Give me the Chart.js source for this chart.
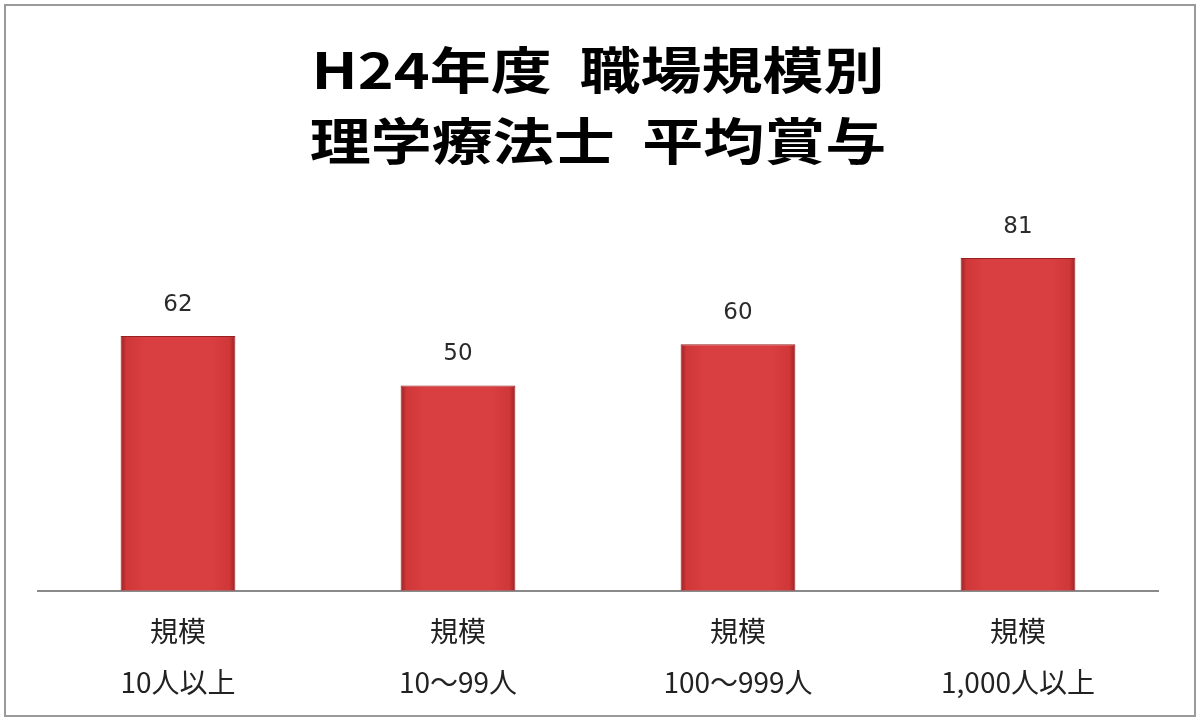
<!DOCTYPE html>
<html>
<head>
<meta charset="utf-8">
<script src="https://cdn.jsdelivr.net/npm/chart.js@4"></script>
<style>
  html, body { margin: 0; padding: 0; background: #fff; }
  #wrap { width: 1200px; height: 723px; }
</style>
</head>
<body>
<div id="wrap"><canvas id="chart-shoyo"></canvas></div>
<script>
const categories = [['規模', '10人以上'], ['規模', '10～99人'], ['規模', '100～999人'], ['規模', '1,000人以上']];
const bonus = [62, 50, 60, 81];
const titleLines = ['H24年度  職場規模別', '理学療法士  平均賞与'];

const jpFont = "'Noto Sans CJK JP', 'Noto Sans', sans-serif";

// 枠と背景
const frame = {
  id: 'frame',
  beforeDraw(chart) {
    const c = chart.ctx;
    c.save();
    c.fillStyle = '#fff';
    c.fillRect(0, 0, chart.width, chart.height);
    c.strokeStyle = '#9a9a9a';
    c.lineWidth = 2;
    c.strokeRect(5, 5, chart.width - 10, chart.height - 12);
    c.restore();
  }
};

// 横長のタイトル（元画像の字形に合わせて横に伸ばす）
const wideTitle = {
  id: 'wideTitle',
  afterDraw(chart) {
    const c = chart.ctx;
    const ys = [70, 141];
    c.save();
    c.font = "bold 50px " + jpFont;
    c.fillStyle = '#000';
    c.textAlign = 'center';
    c.textBaseline = 'middle';
    titleLines.forEach((line, i) => {
      c.save();
      c.translate(chart.width / 2 - 2, ys[i]);
      c.scale(1.22, 1);
      c.fillText(line, 0, 0);
      c.restore();
    });
    c.restore();
  }
};

// 棒の上の数値
const valueLabels = {
  id: 'valueLabels',
  afterDatasetsDraw(chart) {
    const c = chart.ctx;
    const meta = chart.getDatasetMeta(0);
    c.save();
    c.font = "23px 'DejaVu Sans', sans-serif";
    c.fillStyle = '#2a2a2a';
    c.textAlign = 'center';
    c.textBaseline = 'middle';
    meta.data.forEach((bar, i) => {
      c.fillText(String(chart.data.datasets[0].data[i]), bar.x, bar.y - 31);
    });
    c.restore();
  }
};

function barFill(context) {
  const { chart } = context;
  const xs = chart.scales && chart.scales.x;
  if (!chart.chartArea || !xs) return '#d63a3a';
  const x = xs.getPixelForValue(context.dataIndex);
  const w = (chart.chartArea.width / categories.length) * 0.41;
  if (!Number.isFinite(x) || !Number.isFinite(w)) return '#d63a3a';
  const g = chart.ctx.createLinearGradient(x - w / 2, 0, x + w / 2, 0);
  g.addColorStop(0, '#9c2123');
  g.addColorStop(0.05, '#cf3739');
  g.addColorStop(0.2, '#d93e40');
  g.addColorStop(0.8, '#d93e40');
  g.addColorStop(0.95, '#cf3739');
  g.addColorStop(1, '#9c2123');
  return g;
}

const ctx = document.getElementById('chart-shoyo').getContext('2d');
new Chart(ctx, {
  type: 'bar',
  data: {
    labels: categories,
    datasets: [{
      label: '平均賞与',
      data: bonus,
      backgroundColor: barFill,
      borderColor: '#962022',
      borderWidth: 1,
      categoryPercentage: 1,
      barPercentage: 0.41
    }]
  },
  options: {
    responsive: true,
    maintainAspectRatio: false,
    animation: false,
    layout: { padding: { left: 38, right: 42, top: 180, bottom: 0 } },
    plugins: {
      legend: { display: false },
      tooltip: { enabled: false },
      title: { display: false }
    },
    scales: {
      x: {
        grid: { display: false, drawTicks: false },
        border: { display: true, color: '#8a8a8a', width: 2 },
        ticks: {
          color: '#222',
          padding: 16,
          font: { family: jpFont, size: 28, lineHeight: 1.79 }
        }
      },
      y: {
        display: false,
        min: 0,
        max: 100
      }
    }
  },
  plugins: [frame, wideTitle, valueLabels]
});
</script>
</body>
</html>
